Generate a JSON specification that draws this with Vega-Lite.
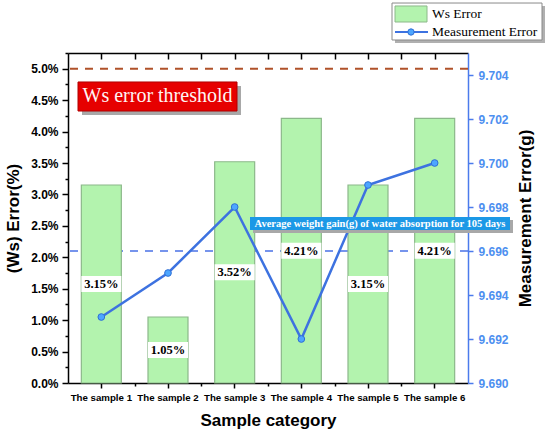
{
  "$schema": "https://vega.github.io/schema/vega-lite/v6.json",
  "width": 400,
  "height": 330,
  "autosize": "none",
  "padding": {"left": 68, "top": 53, "right": 82, "bottom": 52},
  "background": "white",
  "config": {"view": {"stroke": null}, "font": "Liberation Sans", "axis": {"grid": false, "labelOverlap": false, "labelSeparation": 0}},
  "datasets": {
    "samples": [
      {"sample": "The sample 1", "ws": 3.15, "me": 9.693},
      {"sample": "The sample 2", "ws": 1.05, "me": 9.695},
      {"sample": "The sample 3", "ws": 3.52, "me": 9.698},
      {"sample": "The sample 4", "ws": 4.21, "me": 9.692},
      {"sample": "The sample 5", "ws": 3.15, "me": 9.699},
      {"sample": "The sample 6", "ws": 4.21, "me": 9.700}
    ]
  },
  "layer": [
    {
      "data": {"values": [{}]},
      "mark": {"type": "rule", "color": "#4a72e6", "strokeDash": [8, 7], "strokeWidth": 1.5},
      "encoding": {
        "y": {"datum": 9.696, "type": "quantitative", "scale": {"domain": [9.69, 9.705], "nice": false, "zero": false}, "axis": null}
      }
    },
    {
      "data": {"values": [{}]},
      "mark": {"type": "point", "opacity": 0},
      "encoding": {
        "x": {
          "datum": 1, "type": "quantitative",
          "scale": {"domain": [0, 6], "nice": false, "zero": false},
          "axis": {"orient": "bottom", "title": null, "labels": false, "domain": false, "values": [1, 2, 3, 4, 5], "tickCount": 6, "tickSize": 3, "tickColor": "black", "tickWidth": 1.5, "grid": false}
        },
        "y": {
          "datum": 1, "type": "quantitative",
          "scale": {"domain": [0, 5.25], "nice": false, "zero": false},
          "axis": {"orient": "left", "title": null, "labels": false, "domain": false, "values": [0.25, 0.75, 1.25, 1.75, 2.25, 2.75, 3.25, 3.75, 4.25, 4.75, 5.25], "tickCount": 21, "tickSize": 3, "tickColor": "black", "tickWidth": 1.5, "grid": false}
        }
      }
    },
    {
      "data": {"name": "samples"},
      "transform": [
        {"calculate": "datum.ws / 2", "as": "mid"},
        {"calculate": "format(datum.ws, '.2f') + '%'", "as": "label"}
      ],
      "layer": [
        {
          "mark": {"type": "bar", "fill": "#b3f3ae", "stroke": "#8cb88a", "strokeWidth": 1.2},
          "encoding": {
            "x": {
              "field": "sample", "type": "nominal", "sort": null,
              "scale": {"paddingInner": 0.4, "paddingOuter": 0.2},
              "axis": {
                "orient": "bottom", "title": "Sample category", "labelAngle": 0,
                "labelFont": "Liberation Sans", "labelFontWeight": "bold", "labelFontSize": 9.7, "labelColor": "black",
                "labelPadding": 4, "labelOverlap": false,
                "tickSize": 5, "tickColor": "black", "tickWidth": 1.5,
                "domainColor": "black", "domainWidth": 1.5,
                "titleFont": "Liberation Sans", "titleFontWeight": "bold", "titleFontSize": 17, "titleColor": "black", "titlePadding": 11
              }
            },
            "y": {
              "field": "ws", "type": "quantitative",
              "scale": {"domain": [0, 5.25], "nice": false, "zero": true},
              "axis": {
                "orient": "left", "title": "(Ws) Error(%)",
                "values": [0, 0.5, 1, 1.5, 2, 2.5, 3, 3.5, 4, 4.5, 5],
                "tickCount": 11,
                "labelExpr": "format(datum.value, '.1f') + '%'",
                "labelFont": "Liberation Sans", "labelFontWeight": "bold", "labelFontSize": 12, "labelColor": "black",
                "labelOverlap": false, "labelBound": false, "labelPadding": 4,
                "tickSize": 6, "tickColor": "black", "tickWidth": 1.5,
                "domainColor": "black", "domainWidth": 1.5,
                "titleFont": "Liberation Sans", "titleFontWeight": "bold", "titleFontSize": 17, "titleColor": "black", "titlePadding": 8
              }
            }
          }
        },
        {
          "mark": {"type": "tick", "color": "white", "size": 40, "thickness": 16, "opacity": 1},
          "encoding": {
            "x": {"field": "sample", "type": "nominal", "sort": null},
            "y": {"field": "mid", "type": "quantitative"}
          }
        },
        {
          "mark": {"type": "text", "font": "Liberation Serif", "fontWeight": "bold", "fontSize": 12.5, "color": "black", "baseline": "middle"},
          "encoding": {
            "x": {"field": "sample", "type": "nominal", "sort": null},
            "y": {"field": "mid", "type": "quantitative"},
            "text": {"field": "label"}
          }
        },
        {
          "data": {"values": [{}]},
          "mark": {"type": "rule", "color": "#b0522a", "strokeDash": [8, 7], "strokeWidth": 2},
          "encoding": {"y": {"datum": 5, "type": "quantitative"}}
        }
      ]
    },
    {
      "data": {"name": "samples"},
      "encoding": {
        "x": {"field": "sample", "type": "nominal", "sort": null, "scale": {"type": "point", "padding": 0.5}, "axis": null},
        "y": {
          "field": "me", "type": "quantitative",
          "scale": {"domain": [9.69, 9.705], "nice": false, "zero": false},
          "axis": {
            "orient": "right", "title": "Measurement Error(g)", "titleAngle": 270, "titleBaseline": "top",
            "values": [9.690, 9.691, 9.692, 9.693, 9.694, 9.695, 9.696, 9.697, 9.698, 9.699, 9.700, 9.701, 9.702, 9.703, 9.704, 9.705],
            "tickCount": 15,
            "labelExpr": "round(datum.value * 1000) % 2 == 0 && datum.value < 9.7045 ? format(datum.value, '.3f') : ''",
            "labelFont": "Liberation Sans", "labelFontWeight": "bold", "labelFontSize": 12, "labelColor": "#4d8ff0",
            "labelOverlap": false, "labelBound": false, "labelPadding": 5,
            "tickSize": 5, "tickColor": "#4b7bec", "tickWidth": 1.5,
            "domainColor": "#4b7bec", "domainWidth": 1.5,
            "titleFont": "Liberation Sans", "titleFontWeight": "bold", "titleFontSize": 17, "titleColor": "black", "titlePadding": 9
          }
        }
      },
      "layer": [
        {"mark": {"type": "line", "color": "#3d72e0", "strokeWidth": 2.5}},
        {"mark": {"type": "point", "filled": true, "fill": "#4da6ff", "stroke": "#2f6fd6", "strokeWidth": 1, "size": 45, "opacity": 1}}
      ]
    },
    {
      "data": {"values": [{}]},
      "layer": [
        {
          "mark": {"type": "rect", "fill": "#a8a8a8"},
          "encoding": {
            "x": {
              "datum": 0.21, "type": "quantitative",
              "scale": {"domain": [0, 6], "nice": false, "zero": false},
              "axis": {
                "orient": "bottom", "offset": -330, "title": null, "labels": false,
                "values": [0.5, 1, 1.5, 2, 2.5, 3, 3.5, 4, 4.5, 5, 5.5],
                "tickCount": 12,
                "tickSize": 6, "tickColor": "black", "tickWidth": 1.5,
                "domainColor": "black", "domainWidth": 1.5, "grid": false
              }
            },
            "x2": {"datum": 2.595},
            "y": {"datum": 4.725, "type": "quantitative", "scale": {"domain": [0, 5.25], "nice": false, "zero": false}, "axis": null},
            "y2": {"datum": 4.264}
          }
        },
        {
          "mark": {"type": "rect", "fill": "#e60000", "stroke": "#b00000", "strokeWidth": 1},
          "encoding": {
            "x": {"datum": 0.15, "type": "quantitative"}, "x2": {"datum": 2.535},
            "y": {"datum": 4.789, "type": "quantitative"}, "y2": {"datum": 4.327}
          }
        },
        {
          "mark": {"type": "text", "text": "Ws error threshold", "font": "Liberation Serif", "fontSize": 20, "color": "#fff4f4", "align": "center", "baseline": "middle"},
          "encoding": {"x": {"datum": 1.3425, "type": "quantitative"}, "y": {"datum": 4.558, "type": "quantitative"}}
        },
        {
          "mark": {"type": "rect", "fill": "#a8a8a8"},
          "encoding": {
            "x": {"datum": 2.775, "type": "quantitative"}, "x2": {"datum": 6.675},
            "y": {"datum": 2.593, "type": "quantitative"}, "y2": {"datum": 2.387}
          }
        },
        {
          "mark": {"type": "rect", "fill": "#1c98e6"},
          "encoding": {
            "x": {"datum": 2.73, "type": "quantitative"}, "x2": {"datum": 6.63},
            "y": {"datum": 2.641, "type": "quantitative"}, "y2": {"datum": 2.434}
          }
        },
        {
          "mark": {"type": "text", "text": "Average weight gain(g) of water absorption for 105 days", "font": "Liberation Serif", "fontWeight": "bold", "fontSize": 10.5, "color": "white", "align": "center", "baseline": "middle"},
          "encoding": {"x": {"datum": 4.68, "type": "quantitative"}, "y": {"datum": 2.5375, "type": "quantitative"}}
        },
        {
          "mark": {"type": "rect", "fill": "#b0b0b0"},
          "encoding": {
            "x": {"datum": 4.905, "type": "quantitative"}, "x2": {"datum": 7.155},
            "y": {"datum": 5.998, "type": "quantitative"}, "y2": {"datum": 5.409}
          }
        },
        {
          "mark": {"type": "rect", "fill": "white", "stroke": "#8a8a8a", "strokeWidth": 1},
          "encoding": {
            "x": {"datum": 4.86, "type": "quantitative"}, "x2": {"datum": 7.11},
            "y": {"datum": 6.045, "type": "quantitative"}, "y2": {"datum": 5.457}
          }
        },
        {
          "mark": {"type": "rect", "fill": "#b3f3ae", "stroke": "#8cb88a", "strokeWidth": 1},
          "encoding": {
            "x": {"datum": 4.905, "type": "quantitative"}, "x2": {"datum": 5.385},
            "y": {"datum": 5.998, "type": "quantitative"}, "y2": {"datum": 5.743}
          }
        },
        {
          "mark": {"type": "text", "text": "Ws Error", "font": "Liberation Serif", "fontSize": 13.5, "color": "black", "align": "left", "baseline": "middle"},
          "encoding": {"x": {"datum": 5.46, "type": "quantitative"}, "y": {"datum": 5.871, "type": "quantitative"}}
        },
        {
          "mark": {"type": "rule", "color": "#3d72e0", "strokeWidth": 2},
          "encoding": {
            "x": {"datum": 4.905, "type": "quantitative"}, "x2": {"datum": 5.40},
            "y": {"datum": 5.584, "type": "quantitative"}
          }
        },
        {
          "mark": {"type": "point", "filled": true, "fill": "#4da6ff", "stroke": "#2f6fd6", "strokeWidth": 1, "size": 40, "opacity": 1},
          "encoding": {"x": {"datum": 5.145, "type": "quantitative"}, "y": {"datum": 5.584, "type": "quantitative"}}
        },
        {
          "mark": {"type": "text", "text": "Measurement Error", "font": "Liberation Serif", "fontSize": 13.5, "color": "black", "align": "left", "baseline": "middle"},
          "encoding": {"x": {"datum": 5.46, "type": "quantitative"}, "y": {"datum": 5.584, "type": "quantitative"}}
        }
      ]
    }
  ],
  "resolve": {"scale": {"x": "independent", "y": "independent"}}
}
